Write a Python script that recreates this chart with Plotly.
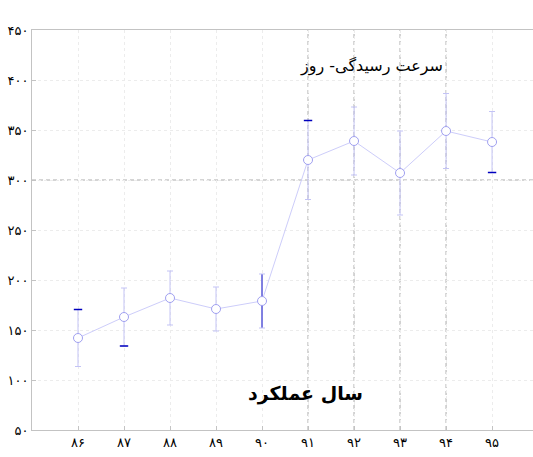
import plotly.graph_objects as go

# ---- data ----
years = [86, 87, 88, 89, 90, 91, 92, 93, 94, 95]
year_labels = ["۸۶", "۸۷", "۸۸", "۸۹", "۹۰", "۹۱", "۹۲", "۹۳", "۹۴", "۹۵"]
speed_days = [142, 163, 182, 171, 179, 320, 339, 307, 349, 338]
speed_err = [28.5, 29, 27, 22, 27, 39.5, 34, 42, 37.5, 30.5]
y_ticks = [50, 100, 150, 200, 250, 300, 350, 400, 450]
y_tick_labels = ["۵۰", "۱۰۰", "۱۵۰", "۲۰۰", "۲۵۰", "۳۰۰", "۳۵۰", "۴۰۰", "۴۵۰"]
title_text = "سرعت رسیدگی- روز"
xlabel_text = "سال عملکرد"
dashed_years = [91, 92, 93, 94]
dashed_level = 300

# dark (highlighted) error bar parts
dark_full_idx = [4]
dark_top_idx = [0, 5]
dark_bottom_idx = [1, 9]

LIGHT_LINE = "rgb(205,205,250)"
LIGHT_ERR = "rgb(195,195,245)"
MARK = "rgb(160,160,240)"
DARK = "rgb(0,0,190)"

fig = go.Figure()

# dark full error bars (drawn below main trace)
fig.add_trace(go.Scatter(
    x=[years[i] for i in dark_full_idx],
    y=[speed_days[i] for i in dark_full_idx],
    mode="markers",
    marker=dict(size=1, color="rgba(0,0,0,0)"),
    error_y=dict(type="data", array=[speed_err[i] for i in dark_full_idx],
                 color=DARK, thickness=1.5, width=0),
    hoverinfo="skip", showlegend=False,
))

# main series
fig.add_trace(go.Scatter(
    x=years, y=speed_days,
    mode="lines+markers",
    line=dict(color=LIGHT_LINE, width=1),
    marker=dict(symbol="circle", size=9, color="white",
                line=dict(color=MARK, width=1)),
    error_y=dict(type="data", array=speed_err, color=LIGHT_ERR,
                 thickness=1, width=3),
    showlegend=False,
))

# dark caps
cap_x = [years[i] for i in dark_top_idx] + [years[i] for i in dark_bottom_idx]
cap_y = ([speed_days[i] + speed_err[i] for i in dark_top_idx]
         + [speed_days[i] - speed_err[i] for i in dark_bottom_idx])
fig.add_trace(go.Scatter(
    x=cap_x, y=cap_y, mode="markers",
    marker=dict(symbol="line-ew", size=6, line=dict(color=DARK, width=1.5)),
    hoverinfo="skip", showlegend=False,
))

shapes = []
for yr in dashed_years:
    shapes.append(dict(type="line", xref="x", yref="y", x0=yr, x1=yr,
                       y0=y_ticks[0], y1=y_ticks[-1],
                       line=dict(color="rgb(170,170,170)", width=1, dash="4px,3px"),
                       layer="below"))
shapes.append(dict(type="line", xref="paper", yref="y", x0=0, x1=1,
                   y0=dashed_level, y1=dashed_level,
                   line=dict(color="rgb(170,170,170)", width=1, dash="4px,3px"),
                   layer="below"))

fig.update_layout(
    width=533, height=457,
    margin=dict(l=32, r=0, t=30, b=27),
    paper_bgcolor="white", plot_bgcolor="white",
    font=dict(family="DejaVu Sans", color="black", size=13),
    shapes=shapes,
    annotations=[
        dict(text=title_text, xref="paper", yref="paper", x=0.677, y=0.91,
             showarrow=False, font=dict(family="DejaVu Sans", size=16, color="black"),
             xanchor="center", yanchor="middle"),
        dict(text="<b>" + xlabel_text + "</b>", xref="paper", yref="paper",
             x=0.545, y=0.0925, showarrow=False,
             font=dict(family="DejaVu Sans", size=19, color="black"),
             xanchor="center", yanchor="middle"),
    ],
)

fig.update_xaxes(
    range=[85, 95.89], tickvals=years, ticktext=year_labels, automargin=False,
    showline=True, linecolor="rgb(195,195,195)", linewidth=1, mirror=True,
    ticks="inside", ticklen=4, tickcolor="rgb(195,195,195)",
    showgrid=True, gridcolor="rgb(236,236,236)", griddash="dot", gridwidth=1,
    zeroline=False, tickfont=dict(size=13, color="black"),
)
fig.update_yaxes(
    range=[50, 450], tickvals=y_ticks, ticktext=y_tick_labels, automargin=False,
    showline=True, linecolor="rgb(195,195,195)", linewidth=1, mirror=True,
    ticks="inside", ticklen=4, tickcolor="rgb(195,195,195)",
    showgrid=True, gridcolor="rgb(236,236,236)", griddash="dot", gridwidth=1,
    zeroline=False, tickfont=dict(size=13, color="black"),
)

fig.write_html("out.html",
               config={"displayModeBar": False},
               post_script="document.body.style.margin='0';document.body.style.overflow='hidden';")
